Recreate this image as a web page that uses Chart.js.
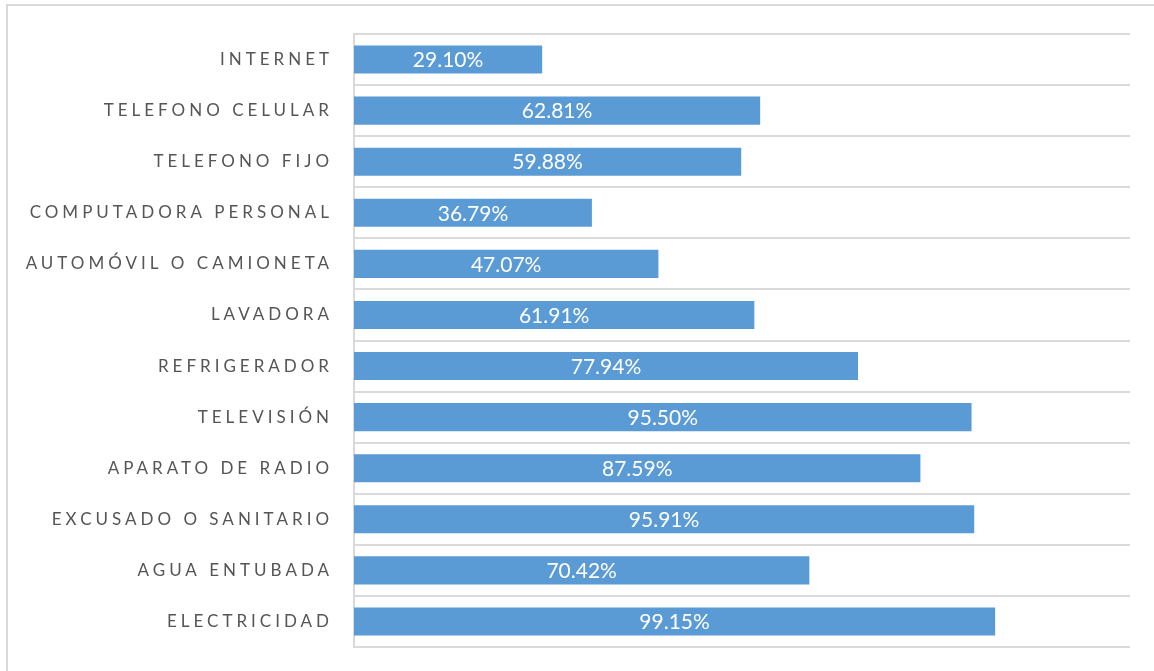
<!DOCTYPE html>
<html>
<head>
<meta charset="utf-8">
<script src="https://cdn.jsdelivr.net/npm/chart.js@4.4.1/dist/chart.umd.min.js"></script>
<style>
  html, body { margin: 0; padding: 0; background: #ffffff; }
  #wrap { position: relative; width: 1154px; height: 671px; }
</style>
</head>
<body>
<div id="wrap"><canvas id="c" width="1154" height="671"></canvas></div>
<script>
const categories = [
  "INTERNET",
  "TELEFONO CELULAR",
  "TELEFONO FIJO",
  "COMPUTADORA PERSONAL",
  "AUTOMÓVIL O CAMIONETA",
  "LAVADORA",
  "REFRIGERADOR",
  "TELEVISIÓN",
  "APARATO DE RADIO",
  "EXCUSADO O SANITARIO",
  "AGUA ENTUBADA",
  "ELECTRICIDAD"
];
const percentValues = [29.10, 62.81, 59.88, 36.79, 47.07, 61.91, 77.94, 95.50, 87.59, 95.91, 70.42, 99.15];
const axisMax = 120;

const LETTER_SPACING = 4;

const framePlugin = {
  id: 'frame',
  beforeDraw(chart) {
    const ctx = chart.ctx;
    ctx.save();
    ctx.strokeStyle = '#d9d9d9';
    ctx.lineWidth = 2;
    ctx.strokeRect(7, 5, 1400, 900);
    ctx.restore();
    ctx.letterSpacing = LETTER_SPACING + 'px';
  },
  beforeDatasetsDraw(chart) {
    chart.ctx.letterSpacing = '0px';
  }
};

const labelPlugin = {
  id: 'barLabels',
  afterDatasetsDraw(chart) {
    const ctx = chart.ctx;
    const meta = chart.getDatasetMeta(0);
    ctx.save();
    ctx.letterSpacing = '0px';
    ctx.fillStyle = '#ffffff';
    ctx.font = '21px Lato';
    ctx.textAlign = 'center';
    ctx.textBaseline = 'middle';
    meta.data.forEach((bar, i) => {
      const v = chart.data.datasets[0].data[i];
      const cx = (bar.x + bar.base) / 2;
      ctx.fillText(v.toFixed(2) + '%', cx, bar.y + 1);
    });
    ctx.restore();
  }
};

new Chart(document.getElementById('c'), {
  type: 'bar',
  data: {
    labels: categories,
    datasets: [{
      data: percentValues,
      backgroundColor: '#5b9bd5',
      borderWidth: 0,
      barPercentage: 0.55,
      categoryPercentage: 1.0
    }]
  },
  options: {
    indexAxis: 'y',
    responsive: false,
    animation: false,
    devicePixelRatio: 1,
    layout: { padding: { top: 34, right: 24, bottom: 24, left: 0 } },
    plugins: {
      legend: { display: false },
      tooltip: { enabled: false }
    },
    scales: {
      x: {
        display: false,
        min: 0,
        max: axisMax
      },
      y: {
        afterFit(scale) { scale.width = 354; },
        grid: {
          display: true,
          color: '#d9d9d9',
          lineWidth: 2,
          drawTicks: true,
          tickLength: 21,
          tickColor: 'rgba(0,0,0,0)',
          offset: true
        },
        border: { display: true, color: '#d9d9d9', width: 2 },
        ticks: {
          color: '#555555',
          font: { family: 'Lato', size: 17 },
          padding: 0
        }
      }
    }
  },
  plugins: [framePlugin, labelPlugin]
});
</script>
</body>
</html>
